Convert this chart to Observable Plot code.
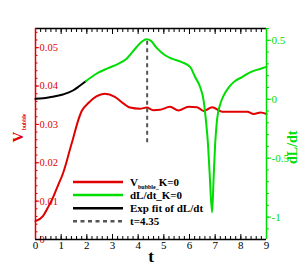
<!DOCTYPE html>
<html><head><meta charset="utf-8">
<script src="https://cdn.jsdelivr.net/npm/d3@7"></script>
<script src="https://cdn.jsdelivr.net/npm/@observablehq/plot@0.6"></script>
<style>
html,body{margin:0;padding:0;background:#fff;}
#wrap{position:relative;width:299px;height:265px;overflow:hidden;}
#wrap svg{position:absolute;left:0;top:0;}
</style></head><body><div id="wrap"></div>
<script>
// V_bubble (left axis)
const tRed = [0, 0.29, 0.48, 0.68, 0.87, 1.07, 1.2, 1.33, 1.46, 1.66, 1.8, 2.05, 2.37, 2.7, 3.09, 3.42, 3.68, 4.07, 4.33, 4.59, 4.85, 5.24, 5.57, 5.96, 6.29, 6.55, 6.88, 7.27, 7.85, 8.25, 8.5, 8.77, 9.0];
const vRed = [0.0048, 0.0061, 0.0083, 0.0109, 0.014, 0.0172, 0.020, 0.0232, 0.0262, 0.031, 0.0335, 0.0355, 0.0373, 0.038, 0.0372, 0.0355, 0.0344, 0.0341, 0.0344, 0.0337, 0.0338, 0.0346, 0.0336, 0.0346, 0.0345, 0.0335, 0.0345, 0.0333, 0.0333, 0.0333, 0.0327, 0.0331, 0.0327];
// Exp fit of dL/dt (right axis)
const tFit = [0, 0.3, 0.55, 1.07, 1.46, 1.7, 1.96];
const vFit = [0.003, 0.008, 0.017, 0.04, 0.074, 0.11, 0.153];
// dL/dt (right axis)
const tGreen = [1.96, 2.37, 2.83, 3.22, 3.55, 3.94, 4.15, 4.33, 4.5, 4.72, 5.05, 5.31, 5.7, 6.03, 6.22, 6.42, 6.55, 6.64, 6.72, 6.78, 6.88, 6.94, 7.0, 7.07, 7.2, 7.33, 7.53, 7.72, 8.05, 8.38, 8.77, 9.0];
const vGreen = [0.153, 0.216, 0.264, 0.30, 0.344, 0.443, 0.49, 0.509, 0.495, 0.435, 0.373, 0.344, 0.315, 0.273, 0.188, 0.10, -0.011, -0.18, -0.38, -0.61, -0.96, -0.665, -0.38, -0.18, -0.04, 0.03, 0.10, 0.145, 0.188, 0.23, 0.259, 0.275];
// marker line t=4.35
const markerT = [4.35];
const markerTop = [0.51];
const markerBottom = [-0.37];
// ticks
const xTicks = [0, 1, 2, 3, 4, 5, 6, 7, 8, 9];
const leftTicks = [0, 0.01, 0.02, 0.03, 0.04, 0.05];
const rightTicks = [-1, -0.5, 0, 0.5];
const legendLabels = ["V|bubble_|K=0", "dL/dt_K=0", "Exp fit of dL/dt", "t=4.35"];

const RED = "#e00000", GREEN = "#00dd00", DASH = "#555555";
const W = 299, H = 265;
const frame = {width: W, height: H, marginLeft: 35, marginRight: 33, marginTop: 28, marginBottom: 26};
const xDomain = [0, 9], leftDomain = [0, 0.055], rightDomain = [-1.19, 0.6];
const FONT = "'Liberation Serif','Times New Roman',serif";
const xMinor = d3.range(0, 46).map(i => +(i * 0.2).toFixed(2));
const leftMinor = d3.range(0, 28).map(i => +(i * 0.002).toFixed(3));
const rightMinor = d3.range(-11, 7).map(i => +(i * 0.1).toFixed(2));

const redData = tRed.map((t, i) => ({t, v: vRed[i]}));
const fitData = tFit.map((t, i) => ({t, v: vFit[i]}));
const greenData = tGreen.map((t, i) => ({t, v: vGreen[i]}));
const markerData = markerT.map((t, i) => ({t, top: markerTop[i], bottom: markerBottom[i]}));

const style = {background: "transparent", fontFamily: FONT, fontSize: "11px", color: "black", overflow: "visible"};

const plotA = Plot.plot({
  ...frame, style,
  x: {domain: xDomain},
  y: {domain: leftDomain},
  marks: [
    Plot.axisX(xMinor, {anchor: "bottom", tickSize: -3, fill: "none", label: null}),
    Plot.axisX(xTicks, {anchor: "bottom", tickSize: -5, fill: "none", label: null}),
    Plot.axisX(xTicks, {anchor: "bottom", tickSize: 0, tickPadding: 2, label: null, tickFormat: d => String(d), fontSize: 11}),
    Plot.axisX(xMinor, {anchor: "top", tickSize: -3, fill: "none", label: null}),
    Plot.axisX(xTicks, {anchor: "top", tickSize: -5, fill: "none", label: null}),
    Plot.axisY(leftMinor, {anchor: "left", tickSize: -2.5, fill: "none", stroke: RED, label: null}),
    Plot.axisY(leftTicks, {anchor: "left", tickSize: -4, fill: "none", stroke: RED, label: null}),
    Plot.axisY(leftTicks, {anchor: "left", tickSize: 0, tickPadding: -4, textAnchor: "start", fill: RED, label: null,
      tickFormat: d => d === 0 ? "0" : d.toFixed(2), fontSize: 10.5}),
    Plot.ruleY([leftDomain[0]], {stroke: "black", strokeWidth: 1.5}),
    Plot.ruleY([leftDomain[1]], {stroke: "black", strokeWidth: 1.5}),
    Plot.ruleX([xDomain[0]], {stroke: RED, strokeWidth: 1.5}),
    Plot.line(redData, {x: "t", y: "v", stroke: RED, strokeWidth: 2, curve: "monotone-x"}),
    Plot.text(["t"], {text: d => d, frameAnchor: "bottom", dy: 22, lineAnchor: "bottom", fontSize: 17, fontWeight: "bold"}),
    Plot.text(["V"], {text: d => d, frameAnchor: "left", dx: -17, dy: 8.5, rotate: -90, fontSize: 15, fontWeight: "bold", fill: RED}),
    Plot.text(["bubble"], {text: d => d, frameAnchor: "left", dx: -11, dy: -4, rotate: -90, fontSize: 5.5, fontWeight: "bold", fill: RED})
  ]
});

const plotB = Plot.plot({
  ...frame, style,
  x: {domain: xDomain, axis: null},
  y: {domain: rightDomain},
  marks: [
    Plot.axisY(rightMinor, {anchor: "right", tickSize: 2, fill: "none", stroke: GREEN, label: null}),
    Plot.axisY(rightTicks, {anchor: "right", tickSize: 4, tickPadding: 1, stroke: GREEN, fill: GREEN, label: null, tickFormat: d => String(d), fontSize: 11}),
    Plot.ruleX([xDomain[1]], {stroke: GREEN, strokeWidth: 1.5}),
    Plot.ruleX(markerData, {x: "t", y1: "bottom", y2: "top", stroke: DASH, strokeWidth: 2, strokeDasharray: "4,3.5"}),
    Plot.line(fitData, {x: "t", y: "v", stroke: "black", strokeWidth: 2, curve: "monotone-x"}),
    Plot.line(greenData, {x: "t", y: "v", stroke: GREEN, strokeWidth: 2, curve: "monotone-x"}),
    Plot.text(["dL/dt"], {text: d => d, frameAnchor: "right", dx: 26, dy: -3.5, rotate: -90, fontSize: 14, fontWeight: "bold", fill: GREEN})
  ]
});

const wrap = document.getElementById("wrap");
wrap.appendChild(plotA);
wrap.appendChild(plotB);

// legend
const legendStyles = [
  {stroke: RED, dash: null},
  {stroke: GREEN, dash: null},
  {stroke: "black", dash: null},
  {stroke: DASH, dash: "4,3.5"}
];
const leg = d3.select(wrap).append("svg").attr("width", W).attr("height", H)
  .style("font-family", FONT).style("font-weight", "bold");
legendLabels.forEach((lab, i) => {
  const y = 182 + i * 13.1;
  leg.append("line").attr("x1", 73).attr("x2", 123).attr("y1", y).attr("y2", y)
    .attr("stroke", legendStyles[i].stroke).attr("stroke-width", 2.5)
    .attr("stroke-dasharray", legendStyles[i].dash);
  const t = leg.append("text").attr("x", 130).attr("y", y + 4).attr("font-size", 11);
  const parts = lab.split("|");
  if (parts.length === 3) {
    t.append("tspan").text(parts[0]);
    t.append("tspan").attr("font-size", 6).attr("dy", 2.5).text(parts[1]);
    t.append("tspan").attr("dy", -2.5).text(parts[2]);
  } else {
    t.text(lab);
  }
});
</script></body></html>
